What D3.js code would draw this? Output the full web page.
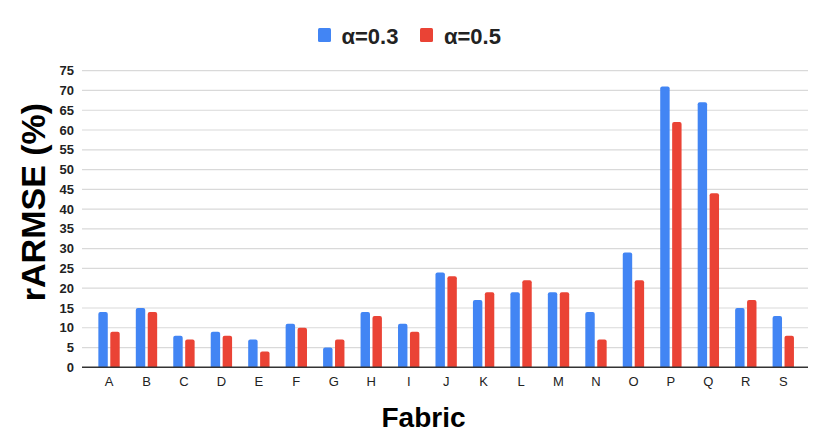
<!DOCTYPE html>
<html>
<head>
<meta charset="utf-8">
<script src="https://cdn.jsdelivr.net/npm/d3@7"></script>
<style>
  html, body { margin: 0; padding: 0; background: #fff; }
  svg { display: block; font-family: "Liberation Sans", Arial, sans-serif; }
</style>
</head>
<body>
<svg id="chart" width="830" height="435"></svg>
<script>
const categories = ["A","B","C","D","E","F","G","H","I","J","K","L","M","N","O","P","Q","R","S"];
const seriesNames = ["α=0.3", "α=0.5"];
const alpha03 = [14, 15, 8, 9, 7, 11, 5, 14, 11, 24, 17, 19, 19, 14, 29, 71, 67, 15, 13];
const alpha05 = [9, 14, 7, 8, 4, 10, 7, 13, 9, 23, 19, 22, 19, 7, 22, 62, 44, 17, 8];
const yTicks = [0, 5, 10, 15, 20, 25, 30, 35, 40, 45, 50, 55, 60, 65, 70, 75];
const colors = ["#4285F4", "#EA4335"];

const svg = d3.select("#chart");
const plot = { left: 82, right: 808, top: 70.7, bottom: 367.3 };

const y = d3.scaleLinear().domain([0, 75]).range([plot.bottom, plot.top]);
const x = d3.scaleBand().domain(categories).range([90.3, 802]).paddingInner(0.43).paddingOuter(0.215);
const xInner = d3.scaleBand().domain(seriesNames).range([0, x.bandwidth()]).paddingInner(0.21);

// gridlines
svg.append("g").selectAll("line").data(yTicks.filter(t => t > 0)).join("line")
  .attr("x1", plot.left).attr("x2", plot.right)
  .attr("y1", d => y(d)).attr("y2", d => y(d))
  .attr("stroke", "#d9d9d9").attr("stroke-width", 1.2);

// y tick labels
svg.append("g").selectAll("text").data(yTicks).join("text")
  .attr("x", 74).attr("y", d => y(d)).attr("dy", "0.35em")
  .attr("text-anchor", "end").attr("font-size", 13).attr("font-weight", "bold")
  .attr("fill", "#222").text(d => d);

// bars
const data = categories.map((c, i) => ({ cat: c, vals: [alpha03[i], alpha05[i]] }));
function topRounded(x0, y0, w, h, r) {
  r = Math.min(r, h, w / 2);
  return `M${x0},${y0 + h}V${y0 + r}Q${x0},${y0} ${x0 + r},${y0}H${x0 + w - r}Q${x0 + w},${y0} ${x0 + w},${y0 + r}V${y0 + h}Z`;
}
const groups = svg.append("g").selectAll("g").data(data).join("g")
  .attr("transform", d => `translate(${x(d.cat)},0)`);
groups.selectAll("path").data(d => d.vals.map((v, k) => ({ v, k }))).join("path")
  .attr("d", d => topRounded(xInner(seriesNames[d.k]), y(d.v), xInner.bandwidth(), y(0) - y(d.v), 2))
  .attr("fill", d => colors[d.k]);

// x axis baseline
svg.append("line").attr("x1", plot.left).attr("x2", plot.right)
  .attr("y1", y(0)).attr("y2", y(0)).attr("stroke", "#333").attr("stroke-width", 1.5);

// x labels
svg.append("g").selectAll("text").data(categories).join("text")
  .attr("x", d => x(d) + x.bandwidth() / 2).attr("y", 386)
  .attr("text-anchor", "middle").attr("font-size", 13).attr("fill", "#222").text(d => d);

// axis titles
svg.append("text").attr("x", 423.5).attr("y", 426.5).attr("text-anchor", "middle")
  .attr("font-size", 28).attr("font-weight", "bold").attr("fill", "#000").text("Fabric");
svg.append("text").attr("transform", "translate(45,202) rotate(-90)")
  .attr("text-anchor", "middle").attr("font-size", 34).attr("font-weight", "bold")
  .attr("fill", "#000").text("rARMSE (%)");

// legend
const legend = [{ name: seriesNames[0], sx: 318, tx: 341.5 }, { name: seriesNames[1], sx: 420, tx: 444 }];
const lg = svg.append("g");
lg.selectAll("rect").data(legend).join("rect")
  .attr("x", d => d.sx).attr("y", 28).attr("width", 13).attr("height", 14).attr("rx", 1.5)
  .attr("fill", (d, i) => colors[i]);
lg.selectAll("text").data(legend).join("text")
  .attr("x", d => d.tx).attr("y", 43.5).attr("font-size", 22).attr("font-weight", "bold")
  .attr("fill", "#222").text(d => d.name);
</script>
</body>
</html>
